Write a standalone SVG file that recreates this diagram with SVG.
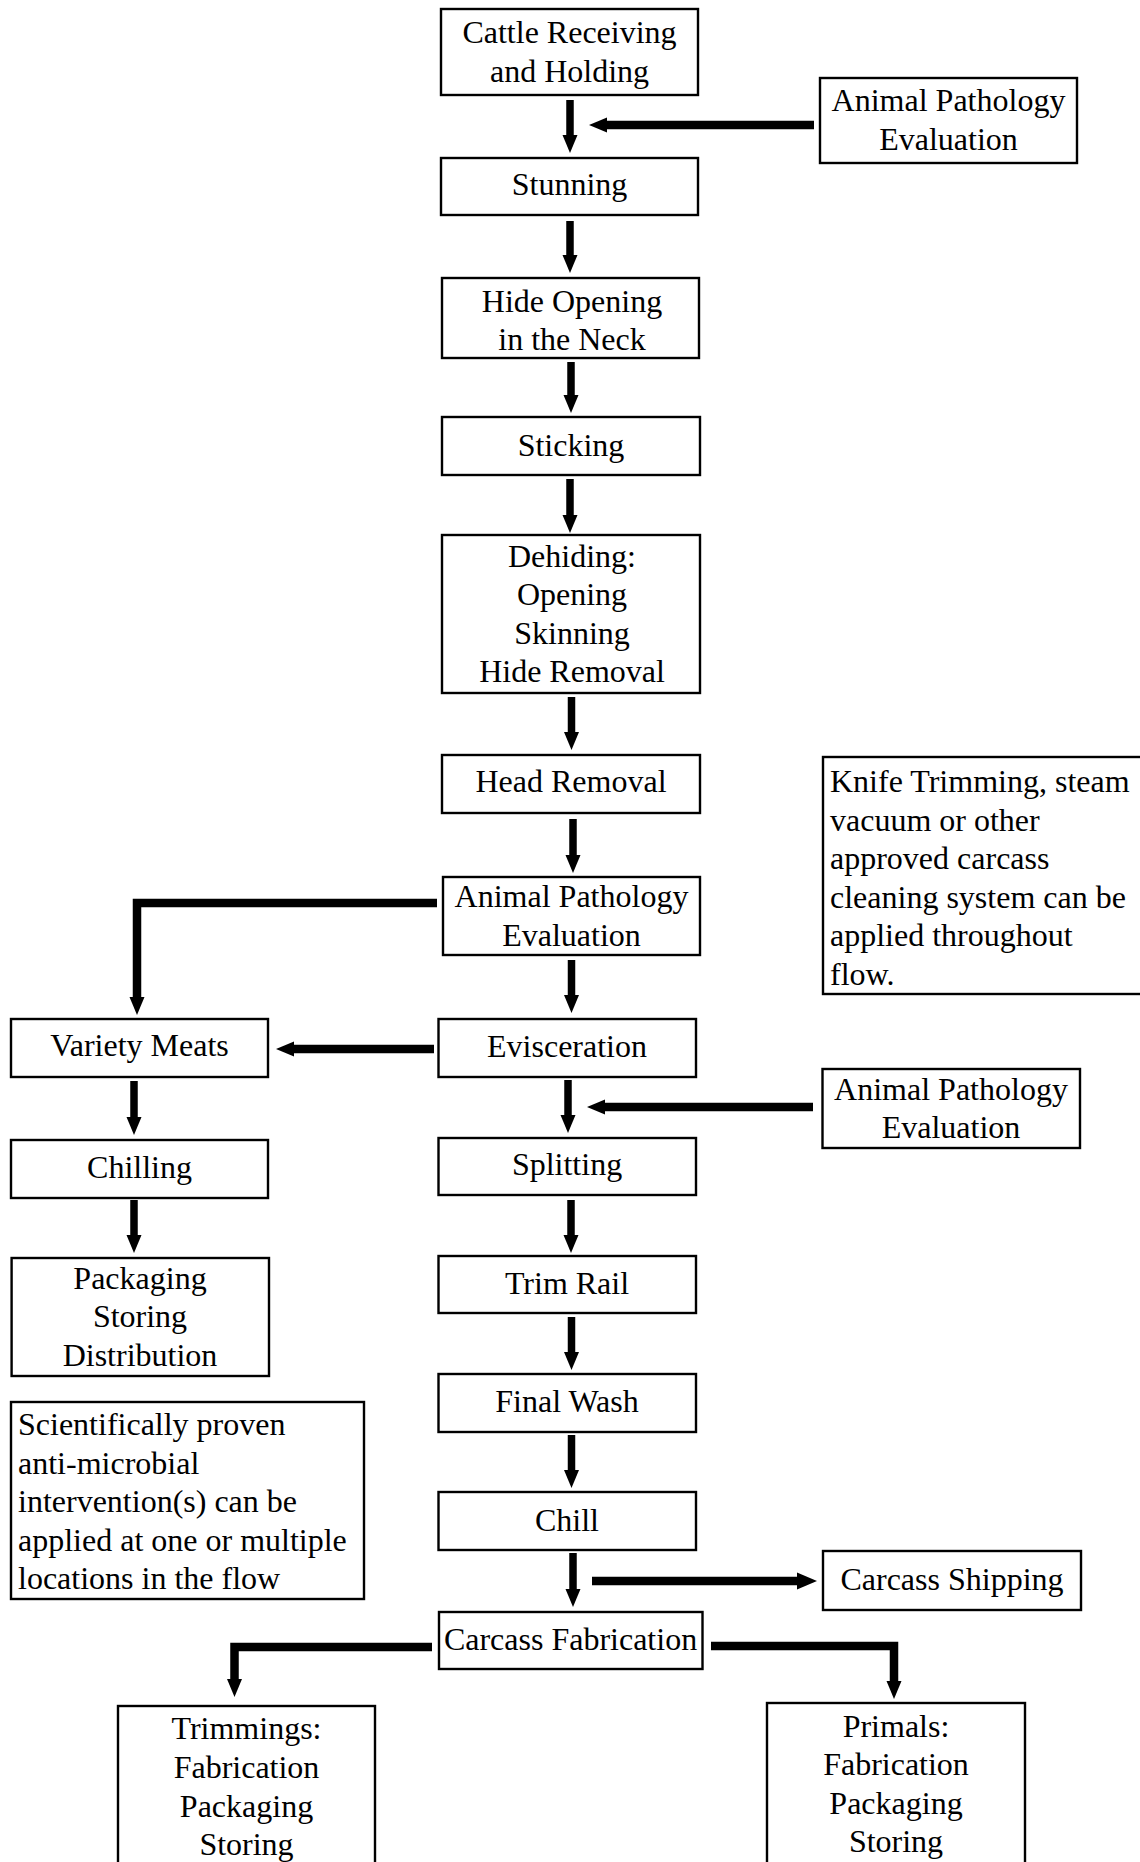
<svg xmlns="http://www.w3.org/2000/svg" width="1140" height="1862" viewBox="0 0 1140 1862">
<style>
.box{fill:#fff;stroke:#000;stroke-width:2.4}
text{font-family:"Liberation Serif","Times New Roman",serif;font-size:32px;fill:#000}
.c{text-anchor:middle}
.l{text-anchor:start}
.ar{fill:none;stroke:#000;stroke-width:7.5;stroke-linejoin:miter}
.th{fill:none;stroke:#000;stroke-width:8.5;stroke-linejoin:miter}
</style>
<defs>
<marker id="ah" markerUnits="userSpaceOnUse" markerWidth="20" markerHeight="18" viewBox="0 -9 20 18" refX="1" refY="0" orient="auto">
<path d="M0,-7.5 L18,0 L0,7.5 z" fill="#000"/>
</marker>
<marker id="ah2" markerUnits="userSpaceOnUse" markerWidth="22" markerHeight="20" viewBox="0 -10 22 20" refX="1" refY="0" orient="auto">
<path d="M0,-8.5 L20,0 L0,8.5 z" fill="#000"/>
</marker>
</defs>
<rect width="1140" height="1862" fill="#fff"/>

<g id="connectors">
<path class="ar" d="M570,100 V136" marker-end="url(#ah)"/>
<path class="th" d="M814,125 H606" marker-end="url(#ah)"/>
<path class="ar" d="M570,221 V256" marker-end="url(#ah)"/>
<path class="ar" d="M571,362 V396" marker-end="url(#ah)"/>
<path class="ar" d="M570,479 V516" marker-end="url(#ah)"/>
<path class="ar" d="M571.5,697 V733" marker-end="url(#ah)"/>
<path class="ar" d="M573,819 V856" marker-end="url(#ah)"/>
<path class="ar" d="M571.5,960 V996" marker-end="url(#ah)"/>
<path class="th" d="M437,903 H137 V998" marker-end="url(#ah)"/>
<path class="th" d="M434,1049 H293" marker-end="url(#ah)"/>
<path class="ar" d="M134,1081 V1118" marker-end="url(#ah)"/>
<path class="ar" d="M568,1080 V1116" marker-end="url(#ah)"/>
<path class="th" d="M813,1107 H604" marker-end="url(#ah)"/>
<path class="ar" d="M134,1200 V1236" marker-end="url(#ah)"/>
<path class="ar" d="M571,1200 V1236" marker-end="url(#ah)"/>
<path class="ar" d="M571.5,1317 V1353" marker-end="url(#ah)"/>
<path class="ar" d="M571.5,1435 V1471" marker-end="url(#ah)"/>
<path class="ar" d="M573,1553 V1590" marker-end="url(#ah)"/>
<path class="th" d="M592,1581 H798" marker-end="url(#ah2)"/>
<path class="th" d="M432,1647 H234.5 V1680" marker-end="url(#ah)"/>
<path class="th" d="M711,1646 H894 V1682" marker-end="url(#ah)"/>
</g>

<g id="n-cattle"><rect class="box" x="441" y="9" width="257" height="86"/><text class="c" x="569.5" y="43">Cattle Receiving</text><text class="c" x="569.5" y="81.5">and Holding</text></g>
<g id="n-ap1"><rect class="box" x="820" y="78" width="257" height="85"/><text class="c" x="948.5" y="111">Animal Pathology</text><text class="c" x="948.5" y="149.5">Evaluation</text></g>
<g id="n-stunning"><rect class="box" x="441" y="158" width="257" height="57"/><text class="c" x="569.5" y="195">Stunning</text></g>
<g id="n-hide"><rect class="box" x="442" y="278" width="257" height="80"/><text class="c" x="572" y="312">Hide Opening</text><text class="c" x="572" y="350">in the Neck</text></g>
<g id="n-sticking"><rect class="box" x="442" y="417" width="258" height="58"/><text class="c" x="571" y="456">Sticking</text></g>
<g id="n-dehiding"><rect class="box" x="442" y="535" width="258" height="158"/><text class="c" x="572" y="567">Dehiding:</text><text class="c" x="572" y="605">Opening</text><text class="c" x="572" y="643.5">Skinning</text><text class="c" x="572" y="682">Hide Removal</text></g>
<g id="n-head"><rect class="box" x="442" y="755" width="258" height="58"/><text class="c" x="571" y="792">Head Removal</text></g>
<g id="n-knife"><rect class="box" x="823" y="757" width="330" height="237"/><text class="l" x="830" y="792">Knife Trimming, steam</text><text class="l" x="830" y="830.5">vacuum or other</text><text class="l" x="830" y="869">approved carcass</text><text class="l" x="830" y="907.5">cleaning system can be</text><text class="l" x="830" y="946">applied throughout</text><text class="l" x="830" y="984.5">flow.</text></g>
<g id="n-ap2"><rect class="box" x="443" y="877" width="257" height="78"/><text class="c" x="571.5" y="907">Animal Pathology</text><text class="c" x="571.5" y="945.5">Evaluation</text></g>
<g id="n-variety"><rect class="box" x="11" y="1019" width="257" height="58"/><text class="c" x="139.5" y="1056">Variety Meats</text></g>
<g id="n-evisceration"><rect class="box" x="438.5" y="1019" width="257.5" height="58"/><text class="c" x="567" y="1057">Evisceration</text></g>
<g id="n-ap3"><rect class="box" x="822.5" y="1069" width="257.5" height="79"/><text class="c" x="951" y="1099.5">Animal Pathology</text><text class="c" x="951" y="1138">Evaluation</text></g>
<g id="n-chilling"><rect class="box" x="11" y="1140" width="257" height="58"/><text class="c" x="139.5" y="1178">Chilling</text></g>
<g id="n-splitting"><rect class="box" x="438.5" y="1138" width="257.5" height="57"/><text class="c" x="567" y="1175">Splitting</text></g>
<g id="n-trimrail"><rect class="box" x="438.5" y="1256" width="257.5" height="57"/><text class="c" x="567" y="1293.5">Trim Rail</text></g>
<g id="n-packaging"><rect class="box" x="11.6" y="1258" width="257.4" height="118"/><text class="c" x="140" y="1288.5">Packaging</text><text class="c" x="140" y="1327">Storing</text><text class="c" x="140" y="1365.5">Distribution</text></g>
<g id="n-finalwash"><rect class="box" x="438.5" y="1374" width="257.5" height="58"/><text class="c" x="567" y="1412">Final Wash</text></g>
<g id="n-sci"><rect class="box" x="11" y="1402" width="353" height="197"/><text class="l" x="18" y="1435">Scientifically proven</text><text class="l" x="18" y="1473.5">anti-microbial</text><text class="l" x="18" y="1512">intervention(s) can be</text><text class="l" x="18" y="1550.5">applied at one or multiple</text><text class="l" x="18" y="1589">locations in the flow</text></g>
<g id="n-chill"><rect class="box" x="438.5" y="1492" width="257.5" height="58"/><text class="c" x="567" y="1531">Chill</text></g>
<g id="n-shipping"><rect class="box" x="823" y="1551" width="258" height="59"/><text class="c" x="952" y="1590">Carcass Shipping</text></g>
<g id="n-fabrication"><rect class="box" x="439" y="1612" width="263.5" height="57"/><text class="c" x="570.5" y="1650">Carcass Fabrication</text></g>
<g id="n-trimmings"><rect class="box" x="118" y="1706" width="257" height="200"/><text class="c" x="246.5" y="1739">Trimmings:</text><text class="c" x="246.5" y="1778">Fabrication</text><text class="c" x="246.5" y="1816.5">Packaging</text><text class="c" x="246.5" y="1855">Storing</text></g>
<g id="n-primals"><rect class="box" x="767" y="1703" width="258" height="200"/><text class="c" x="896" y="1736.5">Primals:</text><text class="c" x="896" y="1775">Fabrication</text><text class="c" x="896" y="1813.5">Packaging</text><text class="c" x="896" y="1852">Storing</text></g>
</svg>
